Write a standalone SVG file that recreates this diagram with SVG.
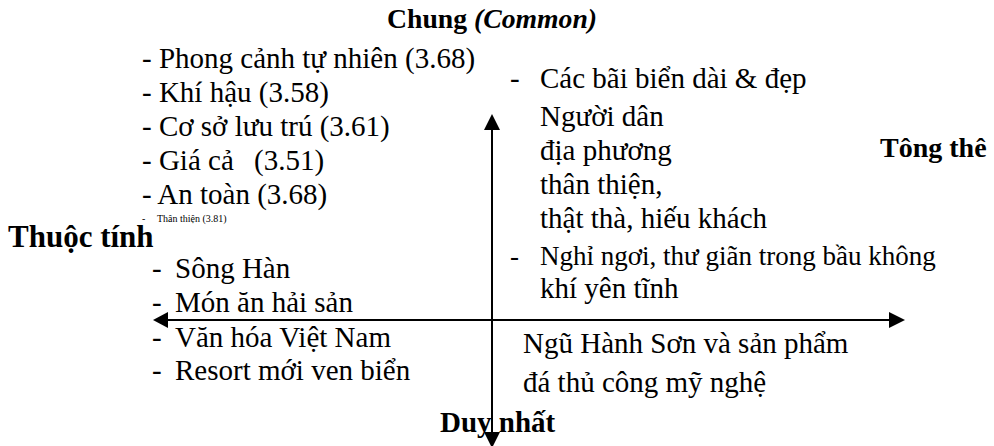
<svg xmlns="http://www.w3.org/2000/svg" width="994" height="446" viewBox="0 0 994 446">
<style>
text{font-family:'Liberation Serif',Tinos,'Times New Roman','Nimbus Roman','DejaVu Serif',serif;fill:#000}
.t{font-size:29px}
.s27{font-size:27px}
.tiny{font-size:10px}
.b{font-weight:bold}
.ax{stroke:#000;stroke-width:2;fill:none}
.ah{fill:#000}
</style>
<rect width="994" height="446" fill="#fff"/>
<g id="connectors">
<line class="ax" x1="492" y1="128" x2="492" y2="434"/>
<polygon class="ah" points="492,114 484,130 500,130"/>
<polygon class="ah" points="492,448 484,432 500,432"/>
<line class="ax" x1="165" y1="320" x2="891" y2="320"/>
<polygon class="ah" points="153,320 168,312 168,328"/>
<polygon class="ah" points="905,320 889,312 889,328"/>
</g>
<g id="label-common"><text class="b" style="font-size:27.7px" x="387" y="28">Chung <tspan font-style="italic">(Common)</tspan></text></g>
<g id="label-attribute"><text class="b" style="font-size:31px" x="8" y="247">Thuộc tính</text></g>
<g id="label-holistic"><text class="b" style="font-size:28px" x="880" y="157">Tông thê</text></g>
<g id="label-unique"><text class="t b" x="440" y="432">Duy nhất</text></g>
<g id="common-attributes">
<text class="t" x="142" y="68">- Phong cảnh tự nhiên (3.68)</text>
<text class="t" x="142" y="102">- Khí hậu (3.58)</text>
<text class="t" x="142" y="136">- Cơ sở lưu trú (3.61)</text>
<text class="t" x="142" y="170">- Giá cả <tspan x="254">(3.51)</tspan></text>
<text class="t" x="142" y="204">- An toàn (3.68)</text>
<text class="tiny" x="142" y="222">-</text>
<text class="tiny" x="157" y="222">Thân thiện (3.81)</text>
</g>
<g id="common-holistic">
<text class="t" x="510" y="88">-</text>
<text class="t" x="540" y="88">Các bãi biển dài &amp; đẹp</text>
<text class="t" x="540" y="126">Người dân</text>
<text class="t" x="540" y="160">địa phương</text>
<text class="t" x="540" y="194">thân thiện,</text>
<text class="t" x="540" y="228">thật thà, hiếu khách</text>
<text class="s27" x="510" y="265">-</text>
<text class="s27" x="540" y="265">Nghỉ ngơi, thư giãn trong bầu không</text>
<text class="t" x="540" y="298">khí yên tĩnh</text>
</g>
<g id="unique-attributes">
<text class="t" x="152" y="278">-</text>
<text class="t" x="175" y="278">Sông Hàn</text>
<text class="t" x="152" y="312">-</text>
<text class="t" x="175" y="312">Món ăn hải sản</text>
<text class="t" x="152" y="347">-</text>
<text class="t" x="175" y="347">Văn hóa Việt Nam</text>
<text class="t" x="152" y="380">-</text>
<text class="t" x="175" y="380">Resort mới ven biển</text>
</g>
<g id="unique-holistic">
<text class="t" x="523" y="353">Ngũ Hành Sơn và sản phẩm</text>
<text class="t" x="523" y="392">đá thủ công mỹ nghệ</text>
</g>
</svg>
